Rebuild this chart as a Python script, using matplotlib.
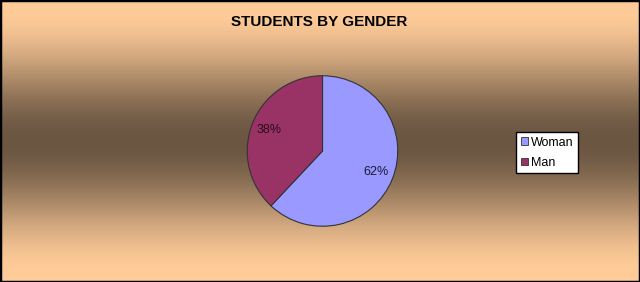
import numpy as np
import matplotlib
matplotlib.use("Agg")
import matplotlib.pyplot as plt
from matplotlib.patches import Patch

categories = ["Woman", "Man"]
values = [62, 38]
colors = ["#9999FF", "#993366"]
title = "STUDENTS BY GENDER"

plt.rcParams['font.family'] = ['Liberation Sans', 'DejaVu Sans']

W, H = 640, 282
fig = plt.figure(figsize=(W / 100, H / 100), dpi=100)

# background gradient
bg = fig.add_axes([0, 0, 1, 1], zorder=0)
bg.set_axis_off()
y = np.linspace(0, 1, 400)
t = 1 - np.abs(y - 0.5) / 0.5  # 0 at edges, 1 at center
t = np.clip((t - 0.05) / 0.95, 0, 1)
t = 3 * t ** 2 - 2 * t ** 3
light = np.array([0xFF, 0xCC, 0x99]) / 255
dark = np.array([0x6B, 0x56, 0x42]) / 255
img = light[None, :] * (1 - t[:, None]) + dark[None, :] * t[:, None]
bg.imshow(img[:, None, :], aspect='auto', extent=[0, 1, 0, 1], origin='lower')
bg.set_xlim(0, 1)
bg.set_ylim(0, 1)
bg.add_patch(plt.Rectangle((0, 0), 1, 1, transform=bg.transAxes, fill=False,
                           edgecolor='black', linewidth=2.5))

# pie
cx, cy, r = 322.5, 151, 76
ax = fig.add_axes([(cx - r) / W, 1 - (cy + r) / H, 2 * r / W, 2 * r / H], zorder=2)
wedges, texts, autotexts = ax.pie(values, colors=colors, startangle=90, counterclock=False,
                                  autopct='%1.0f%%', pctdistance=0.76, radius=1,
                                  wedgeprops=dict(edgecolor='#333333', linewidth=0.8),
                                  textprops=dict(fontsize=9, color='#1a1a33'))
autotexts[1].set_color('#2a0a18')
ax.set_xlim(-1.01, 1.01)
ax.set_ylim(-1.01, 1.01)
ax.set_aspect('equal')
ax.set_axis_off()

fig.text(319 / W, 1 - 21.5 / H, title, ha='center', va='center', fontsize=11,
         fontweight='bold', color='black')

handles = [Patch(facecolor=c, edgecolor='#333333', linewidth=0.6) for c in colors]
leg = fig.legend(handles, categories, loc='center',
                 bbox_to_anchor=(547 / W, 1 - 152.7 / H),
                 fontsize=9, frameon=True, fancybox=False, edgecolor='black',
                 framealpha=1.0,
                 handlelength=0.55, handleheight=0.55, handletextpad=0.25,
                 labelspacing=0.65, borderpad=0.35, borderaxespad=0)
leg.get_frame().set_linewidth(1.0)
leg.get_frame().set_facecolor('white')
leg.set_zorder(5)

fig.savefig("out.png", dpi=100)
